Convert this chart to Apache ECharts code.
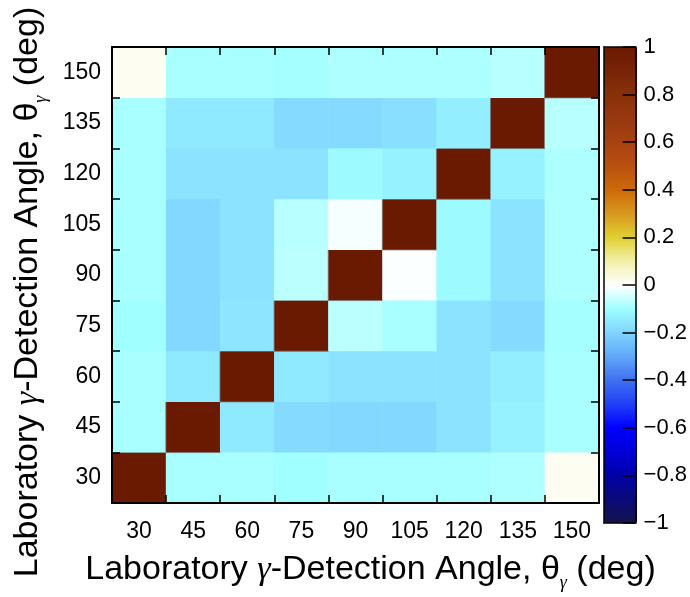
<!DOCTYPE html>
<html>
<head>
<meta charset="utf-8">
<script src="https://cdn.jsdelivr.net/npm/echarts@6/dist/echarts.min.js"></script>
<style>
  html, body { margin: 0; padding: 0; background: #fff; }
  #main { width: 690px; height: 597px; }
</style>
</head>
<body>
<div id="main"></div>
<script>
// 探测角度 (deg)
const angles = ['30', '45', '60', '75', '90', '105', '120', '135', '150']
// 相关矩阵, 每行对应一个 y 角度 (从 30 到 150), 每列对应 x 角度
const corr = [
  [1, -0.09, -0.09, -0.10, -0.09, -0.09, -0.09, -0.085, 0.015],
  [-0.09, 1, -0.15, -0.185, -0.19, -0.19, -0.165, -0.13, -0.09],
  [-0.09, -0.15, 1, -0.15, -0.165, -0.165, -0.165, -0.14, -0.09],
  [-0.10, -0.19, -0.16, 1, -0.07, -0.09, -0.165, -0.185, -0.095],
  [-0.09, -0.19, -0.165, -0.07, 1, -0.003, -0.11, -0.165, -0.085],
  [-0.09, -0.19, -0.165, -0.075, -0.01, 1, -0.11, -0.165, -0.085],
  [-0.09, -0.165, -0.165, -0.165, -0.11, -0.13, 1, -0.13, -0.085],
  [-0.09, -0.15, -0.15, -0.185, -0.185, -0.175, -0.14, 1, -0.075],
  [0.015, -0.09, -0.09, -0.095, -0.085, -0.085, -0.085, -0.075, 1]
]
// 色标范围
const cbarMin = -1
const cbarMax = 1
const cbarStep = 0.2
const cmap = ['#14144a', '#0a0a7a', '#0000a8', '#0000d8', '#0000ff', '#2040f8', '#4070f0',
  '#60a8f8', '#80d4ff', '#a0ffff', '#ffffff', '#f2f0a8', '#e0d030', '#d89820', '#cc6a08',
  '#b85010', '#a84210', '#983810', '#883008', '#782408', '#6a1a00']

let cells = []
corr.forEach((row, yi) => {
  row.forEach((v, xi) => {
    let item = { value: [xi, yi, v] }
    if (v === 1) item.itemStyle = { borderColor: 'rgba(120,120,120,0.8)', borderWidth: 1 }
    cells.push(item)
  })
})

const font = 'Liberation Sans, Arial, Helvetica, sans-serif'
const axisName = 'Laboratory {g|γ}-Detection Angle, θ{s|γ} (deg)'
const nameRich = {
  g: { fontFamily: 'Liberation Serif, serif', fontStyle: 'italic', fontSize: 34, color: '#000' },
  s: { fontFamily: 'Liberation Serif, serif', fontStyle: 'italic', fontSize: 18, color: '#000', verticalAlign: 'bottom', lineHeight: 44 }
}
const lineStyle = { color: '#000', width: 2 }
const tick = { show: true, inside: true, length: 8, lineStyle: { color: '#000', width: 1.5 } }

let catAxis = (extra) => Object.assign({
  type: 'category',
  data: angles,
  z: 10,
  axisLine: { show: true, lineStyle: lineStyle },
  axisTick: tick,
  splitLine: { show: false },
  axisLabel: { show: false }
}, extra)

let frameAxis = (pos) => ({
  type: 'value', gridIndex: 1, position: pos, min: 0, max: 1, z: 10,
  axisLine: { show: true, onZero: false, lineStyle: { color: '#000', width: 1.5 } },
  axisTick: { show: false }, axisLabel: { show: false }, splitLine: { show: false }
})

let chart = echarts.init(document.getElementById('main'))
chart.setOption({
  animation: false,
  textStyle: { fontFamily: font },
  grid: [
    { left: 112, top: 47, width: 487, height: 476 },
    { left: 604, top: 47, width: 33, height: 476 }
  ],
  xAxis: [
    catAxis({
      position: 'bottom',
      axisLabel: { show: true, color: '#000', fontSize: 23, margin: 17, fontFamily: font },
      name: axisName,
      nameLocation: 'middle',
      nameGap: 45,
      nameTextStyle: { color: '#000', fontSize: 34, fontFamily: font, rich: nameRich, padding: [0, 0, 0, 30] }
    }),
    catAxis({ position: 'top' }),
    frameAxis('bottom'),
    frameAxis('top')
  ],
  yAxis: [
    catAxis({
      position: 'left',
      axisLabel: { show: true, color: '#000', fontSize: 23, margin: 11, fontFamily: font },
      name: axisName,
      nameLocation: 'middle',
      nameGap: 62,
      nameRotate: 90,
      nameTextStyle: { color: '#000', fontSize: 34, fontFamily: font, rich: nameRich, padding: [0, 34, 0, 0] }
    }),
    catAxis({ position: 'right' }),
    frameAxis('left'),
    {
      type: 'value', gridIndex: 1, position: 'right',
      min: cbarMin, max: cbarMax, interval: cbarStep, z: 10,
      axisLine: { show: true, onZero: false, lineStyle: { color: '#000', width: 1.5 } },
      axisTick: { show: true, inside: true, length: 13, lineStyle: { color: '#000', width: 1.5 } },
      splitLine: { show: false },
      axisLabel: {
        color: '#000', fontSize: 22, margin: 8, fontFamily: font,
        formatter: v => {
          let r = Math.round(v * 10) / 10
          return r < 0 ? '\u2212' + (-r) : String(r)
        }
      }
    }
  ],
  visualMap: {
    type: 'continuous',
    min: cbarMin,
    max: cbarMax,
    dimension: 2,
    seriesIndex: 0,
    orient: 'vertical',
    left: 604,
    top: 47,
    padding: 0,
    itemWidth: 33,
    itemHeight: 476,
    calculable: false,
    hoverLink: false,
    text: null,
    z: 1,
    inRange: { color: cmap }
  },
  series: [{
    type: 'heatmap',
    xAxisIndex: 0,
    yAxisIndex: 0,
    data: cells,
    itemStyle: { borderWidth: 0 },
    emphasis: { disabled: true }
  }]
})
</script>
</body>
</html>
